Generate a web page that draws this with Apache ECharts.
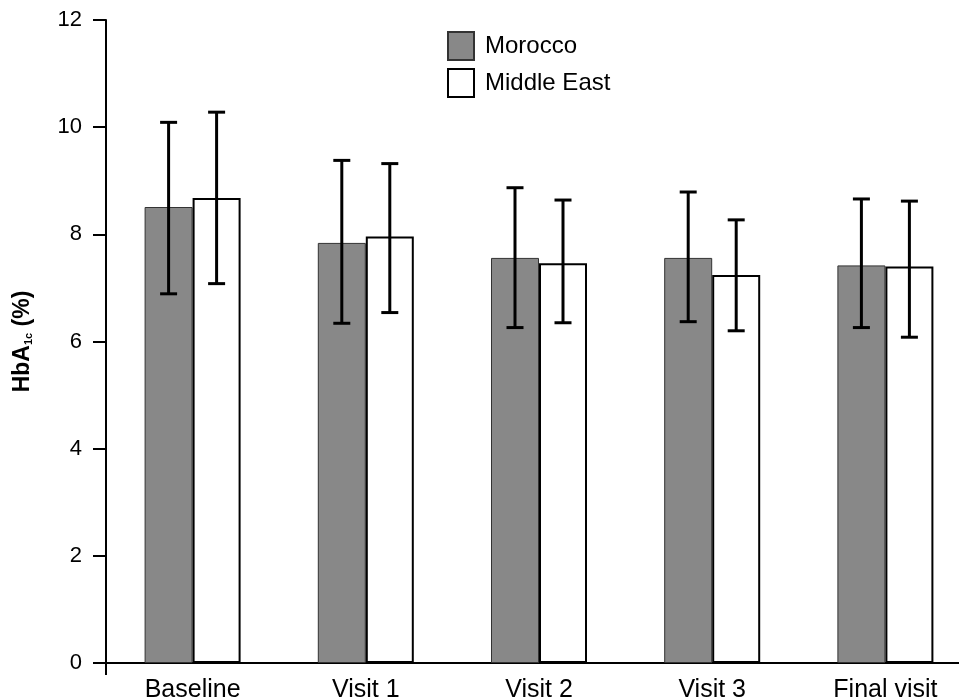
<!DOCTYPE html>
<html>
<head>
<meta charset="utf-8">
<script src="https://cdn.jsdelivr.net/npm/echarts@6/dist/echarts.min.js"></script>
<style>html,body{margin:0;padding:0;background:#fff}#c{width:959px;height:700px}</style>
</head>
<body>
<div id="c"></div>
<script>
const categories = ['Baseline', 'Visit 1', 'Visit 2', 'Visit 3', 'Final visit'];
const moroccoMean = [8.51, 7.84, 7.56, 7.56, 7.42];
const moroccoLow  = [6.89, 6.34, 6.26, 6.37, 6.26];
const moroccoHigh = [10.09, 9.38, 8.87, 8.79, 8.66];
const meMean = [8.68, 7.96, 7.46, 7.24, 7.40];
const meLow  = [7.08, 6.54, 6.35, 6.20, 6.08];
const meHigh = [10.28, 9.32, 8.64, 8.27, 8.62];
const yTicks = [0, 2, 4, 6, 8, 10, 12];

const FONT = 'Liberation Sans, Arial, Helvetica, sans-serif';
const BAR_W = 48;
const CAP = 8.5;

function errRender(side) {
  return function (params, api) {
    const lo = api.coord([api.value(0), api.value(1)]);
    const hi = api.coord([api.value(0), api.value(2)]);
    const cx = lo[0] + side * BAR_W / 2;
    const st = { stroke: '#000', lineWidth: 3 };
    return {
      type: 'group',
      children: [
        { type: 'line', shape: { x1: cx, y1: hi[1], x2: cx, y2: lo[1] }, style: st },
        { type: 'line', shape: { x1: cx - CAP, y1: hi[1], x2: cx + CAP, y2: hi[1] }, style: st },
        { type: 'line', shape: { x1: cx - CAP, y1: lo[1], x2: cx + CAP, y2: lo[1] }, style: st }
      ]
    };
  };
}

const chart = echarts.init(document.getElementById('c'), null, { renderer: 'canvas' });
chart.setOption({
  animation: false,
  backgroundColor: '#fff',
  grid: { left: 106, top: 20, width: 866, height: 643, containLabel: false, outerBoundsMode: 'none' },
  legend: {
    data: ['Morocco', 'Middle East'],
    orient: 'vertical',
    left: 447,
    top: 31,
    icon: 'rect',
    itemWidth: 26,
    itemHeight: 28,
    itemGap: 7,
    padding: 0,
    textStyle: { fontFamily: FONT, fontSize: 24, color: '#000', padding: [0, 0, 0, 6] }
  },
  xAxis: {
    type: 'category',
    data: categories,
    axisLine: { lineStyle: { color: '#000', width: 2 } },
    axisTick: { show: true, length: 12, interval: function (i) { return i === 0; }, lineStyle: { color: '#000', width: 2 } },
    axisLabel: { fontFamily: FONT, fontSize: 25, color: '#000', margin: 15 },
    splitLine: { show: false }
  },
  yAxis: {
    type: 'value',
    min: yTicks[0],
    max: yTicks[yTicks.length - 1],
    interval: 2,
    name: '{b|HbA}{s|1c}{b| (%)}',
    nameLocation: 'middle',
    nameGap: 72,
    nameRotate: 90,
    nameTextStyle: {
      rich: {
        b: { fontFamily: FONT, fontSize: 23, fontWeight: 'bold', color: '#000', lineHeight: 25, verticalAlign: 'bottom' },
        s: { fontFamily: FONT, fontSize: 11, fontWeight: 'bold', color: '#000', lineHeight: 10, verticalAlign: 'bottom' }
      }
    },
    axisLine: { show: true, lineStyle: { color: '#000', width: 2 } },
    axisTick: { show: true, length: 13, lineStyle: { color: '#000', width: 2 } },
    axisLabel: { fontFamily: FONT, fontSize: 22, color: '#000', margin: 24 },
    splitLine: { show: false }
  },
  series: [
    {
      name: 'Morocco', type: 'bar', data: moroccoMean, barWidth: BAR_W, barGap: '0%',
      itemStyle: { color: '#888888', borderColor: '#333', borderWidth: 1 }
    },
    {
      name: 'Middle East', type: 'bar', data: meMean, barWidth: BAR_W, barGap: '0%',
      itemStyle: { color: '#ffffff', borderColor: '#000', borderWidth: 2 }
    },
    {
      name: 'Morocco SD', type: 'custom', renderItem: errRender(-1), z: 5,
      encode: { x: 0, y: [1, 2] },
      data: categories.map((c, i) => [i, moroccoLow[i], moroccoHigh[i]])
    },
    {
      name: 'Middle East SD', type: 'custom', renderItem: errRender(1), z: 5,
      encode: { x: 0, y: [1, 2] },
      data: categories.map((c, i) => [i, meLow[i], meHigh[i]])
    }
  ]
});
</script>
</body>
</html>
